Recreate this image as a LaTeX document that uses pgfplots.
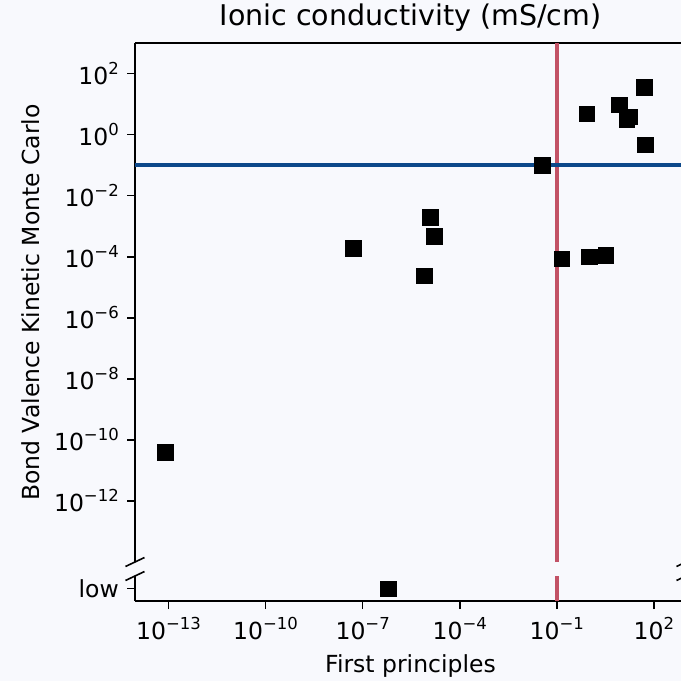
\documentclass[border=0pt]{standalone}
\usepackage{pgfplots}
\pgfplotsset{compat=1.18}
\usepackage{fontspec}
\setmainfont{DejaVu Sans}
\definecolor{bg}{RGB}{248,249,253}
\definecolor{vred}{RGB}{194,82,102}
\definecolor{hblue}{RGB}{12,72,138}
\newcommand{\tl}[1]{10\raisebox{10bp}{\fontsize{16.5bp}{18bp}\selectfont #1}}
\newcommand{\tickfont}{\fontsize{23.5bp}{28bp}\selectfont}
\begin{document}
\begin{tikzpicture}
\fill[bg] (0,0) rectangle (681bp,681bp);
\pgfplotsset{
  every axis/.append style={
    scale only axis, width=551bp, anchor=south west, clip=false,
    xmode=log, xmin=9.2e-15, xmax=980,
    tick align=outside, major tick length=8bp,
    every tick/.style={line width=1.6bp, black},
    axis line style={line width=1.6bp, -},
    xminorticks=false, yminorticks=false,
    ticklabel style={font=\tickfont},
    yticklabel style={inner sep=0pt, anchor=east, xshift=-8bp},
    xticklabel style={inner sep=0pt, anchor=north, yshift=-8bp},
  }
}
% upper (main) axis
\begin{axis}[at={(135bp,119bp)}, height=519bp,
  ymode=log, ymin=1e-14, ymax=1e3,
  axis x line*=top, axis y line*=left, xtick=\empty,
  ytick={1e2,1,1e-2,1e-4,1e-6,1e-8,1e-10,1e-12},
  yticklabels={\tl{2},\tl{0},\tl{−2},\tl{−4},\tl{−6},\tl{−8},\tl{−10},\tl{−12}},
  title={Ionic conductivity (mS/cm)},
  title style={font=\fontsize{28.5bp}{34bp}\selectfont, at={(0.5,1)}, anchor=base, yshift=12bp},
]
\addplot[only marks, mark=square*, mark size=7.8bp, black] coordinates {
  (7.94e-14,3.9e-11)
  (5.13e-8,1.86e-4)
  (1.20e-5,1.95e-3)
  (1.62e-5,4.68e-4)
  (8.13e-6,2.40e-5)
  (0.0347,0.0977)
  (0.141,8.51e-5)
  (1.0,1.0e-4)
  (3.24,1.10e-4)
  (0.832,4.79)
  (8.32,9.55)
  (14.5,3.09)
  (17.4,3.89)
  (50.1,35.5)
  (53.7,0.468)
};
\addplot[vred, line width=3.5bp] coordinates {(0.1,1e-14) (0.1,1e3)};
\addplot[hblue, line width=3.5bp] coordinates {(9.2e-15,0.1) (980,0.1)};
\draw[line width=1.6bp] (rel axis cs:0,0) ++(-9.5bp,-4.5bp) -- ++(19bp,9bp);
\draw[line width=1.6bp] (rel axis cs:1,0) ++(-9.5bp,-4.5bp) -- ++(19bp,9bp);
\end{axis}
% lower ("low") axis
\begin{axis}[at={(135bp,80bp)}, height=25bp,
  ymin=-1, ymax=1,
  axis x line*=bottom, axis y line*=left,
  ytick={0}, yticklabels={low},
  xtick={1e-13,1e-10,1e-7,1e-4,1e-1,1e2},
  xticklabels={\tl{−13},\tl{−10},\tl{−7},\tl{−4},\tl{−1},\tl{2}},
  xlabel={First principles},
  xlabel style={font=\tickfont, at={(0.5,0)}, anchor=base, yshift=-71bp},
]
\addplot[only marks, mark=square*, mark size=7.8bp, black] coordinates {(6.17e-7,0)};
\addplot[vred, line width=3.5bp] coordinates {(0.1,-1) (0.1,1)};
\draw[line width=1.6bp] (rel axis cs:0,1) ++(-9.5bp,-4.5bp) -- ++(19bp,9bp);
\draw[line width=1.6bp] (rel axis cs:1,1) ++(-9.5bp,-4.5bp) -- ++(19bp,9bp);
\end{axis}
\node[rotate=90, anchor=base, font=\tickfont] at (39bp,378.5bp) {Bond Valence Kinetic Monte Carlo};
\pgfresetboundingbox
\path[use as bounding box] (0,0) rectangle (681bp,681bp);
\end{tikzpicture}
\end{document}
